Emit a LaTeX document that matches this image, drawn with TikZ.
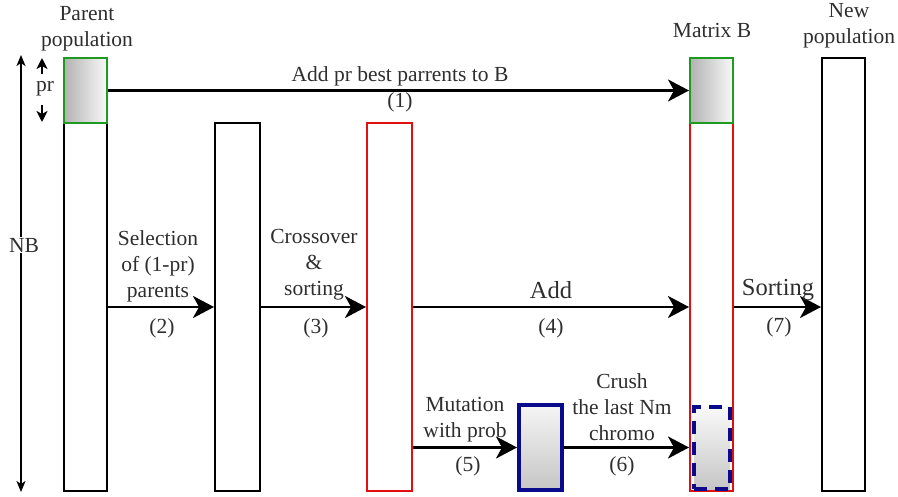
\documentclass[tikz,border=0pt]{standalone}
\usepackage{fontspec}
\setmainfont{Liberation Serif}
\usetikzlibrary{arrows.meta}
\definecolor{txt}{HTML}{2E2E2E}
\definecolor{grn}{HTML}{1E9A1E}
\definecolor{rd}{HTML}{E01010}
\definecolor{nv}{HTML}{0A0A8C}
\tikzset{
  col/.style={draw=black, line width=2pt, inner sep=0pt, minimum width=#1},
  redcol/.style={draw=rd, line width=2pt, inner sep=0pt, minimum width=43pt},
  greenbox/.style={draw=grn, line width=2pt, inner sep=0pt, minimum width=43pt, minimum height=65pt, left color=gray!60, right color=gray!5},
  bigarrow/.style={line width=2.5pt, -{Stealth[length=21pt,width=22pt,inset=6pt]}},
  smallarrow/.style={line width=2.2pt, -{Stealth[length=11pt,width=11pt,inset=3pt]}},
  lbl/.style={text=txt, font=\fontsize{21.5}{26}\selectfont, align=center, inner sep=0pt},
  biglbl/.style={text=txt, font=\fontsize{24.5}{28}\selectfont, align=center, inner sep=0pt},
}
\begin{document}
\begin{tikzpicture}[x=1pt, y=-1pt]
\useasboundingbox (0,0) rectangle (898,497);
% columns
\node[col=43pt, minimum height=368pt] (pbody) at (85.5,307) {};
\node[greenbox] (ptop) at (85.5,90.5) {};
\node[col=45pt, minimum height=368pt] (c2) at (237.5,307) {};
\node[redcol, minimum width=45pt, minimum height=368pt] (c3) at (389.5,307) {};
\node[redcol, minimum height=368pt] (mb) at (711.5,307) {};
\node[greenbox] (mtop) at (711.5,90.5) {};
\node[col=43pt, minimum height=433pt] (np) at (843.5,274.5) {};
\node[draw=nv, line width=4pt, inner sep=0pt, minimum width=43pt, minimum height=85pt, top color=gray!8, bottom color=gray!45] (blue) at (540.5,447.5) {};
\node[draw=nv, line width=4pt, dash pattern=on 13pt off 8pt, inner sep=0pt, minimum width=36pt, minimum height=82pt, top color=gray!5, bottom color=gray!45] (dash) at (712,448) {};
% titles
\node[lbl] (tparent) at (87,29) {Parent\\population};
\node[lbl] (tmatrix) at (712,30) {Matrix B};
\node[lbl] (tnew) at (849,26) {New\\population};
% NB arrow
\coordinate (nbtop) at (21,55);
\coordinate (nbbot) at (21,492);
\draw[line width=2pt, {Stealth[length=11pt,width=9pt,inset=3pt]}-{Stealth[length=11pt,width=9pt,inset=3pt]}] (nbtop) -- (nbbot);
\node[lbl, fill=white, inner sep=1pt] (nb) at (24,245) {NB};
% pr arrows
\coordinate (pru1) at (42,74);
\coordinate (pru2) at (42,58);
\coordinate (prd1) at (42,105);
\coordinate (prd2) at (42,122);
\draw[smallarrow] (pru1) -- (pru2);
\draw[smallarrow] (prd1) -- (prd2);
\node[lbl] (pr) at (45,89) {pr};
% arrows
\draw[bigarrow] (ptop.east) -- (mtop.west);
\node[lbl] (l1a) at (400,76) {Add pr best parrents to B};
\node[lbl] (l1b) at (400,102) {(1)};
\draw[bigarrow] (pbody.east) -- (c2.west);
\node[lbl] (l2a) at (158,266) {Selection\\of (1-pr)\\parents};
\node[lbl] (l2b) at (162,328) {(2)};
\draw[bigarrow] (c2.east) -- (c3.west);
\node[lbl] (l3a) at (314,265) {Crossover\\\&\\sorting};
\node[lbl] (l3b) at (316,328) {(3)};
\draw[bigarrow] (c3.east) -- (mb.west);
\node[biglbl] (l4a) at (551,290) {Add};
\node[lbl] (l4b) at (551,328) {(4)};
\draw[bigarrow] (mb.east) -- (mb.east -| np.west);
\node[biglbl] (l7a) at (778,290) {Sorting};
\node[lbl] (l7b) at (779,327) {(7)};
\draw[bigarrow] (c3.east |- blue.west) -- (blue.west);
\node[lbl] (l5a) at (465,420) {Mutation\\with prob};
\node[lbl] (l5b) at (468,466) {(5)};
\draw[bigarrow] (blue.east) -- (mb.west |- blue.east);
\node[lbl] (l6a) at (622,407) {Crush\\the last Nm\\chromo};
\node[lbl] (l6b) at (622,466) {(6)};
\end{tikzpicture}
\end{document}
